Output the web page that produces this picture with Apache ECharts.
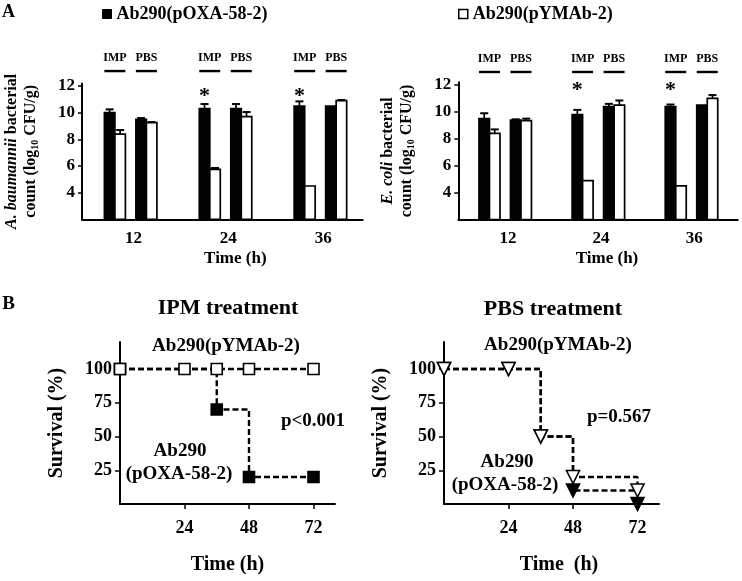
<!DOCTYPE html>
<html><head><meta charset="utf-8">
<script src="https://cdn.jsdelivr.net/npm/echarts@6/dist/echarts.min.js"></script>
<style>html,body{margin:0;padding:0;background:#fff}#c{width:742px;height:581px}</style>
</head><body><div id="c"></div>
<script>
const FONT = '"Liberation Serif","Times New Roman",serif';

// ---------- Panel A data (log10 CFU/g) ----------
const timePoints = [12, 24, 36];
const groupLabels = ['IMP', 'PBS'];
const yTicksA = [4, 6, 8, 10, 12];

// A. baumannii
const abImpOxa = [10.0, 10.3, 10.5];
const abImpOxaErr = [0.25, 0.35, 0.35];
const abImpYm = [8.4, 5.75, 4.5];
const abImpYmErr = [0.3, 0.1, 0.0];
const abPbsOxa = [9.5, 10.3, 10.5];
const abPbsOxaErr = [0.1, 0.35, 0.0];
const abPbsYm = [9.25, 9.7, 10.9];
const abPbsYmErr = [0.05, 0.35, 0.05];
const abStars = [[24, 11.25], [36, 11.25]];

// E. coli
const ecImpOxa = [9.5, 9.8, 10.4];
const ecImpOxaErr = [0.4, 0.35, 0.15];
const ecImpYm = [8.4, 4.9, 4.5];
const ecImpYmErr = [0.3, 0.0, 0.0];
const ecPbsOxa = [9.4, 10.4, 10.5];
const ecPbsOxaErr = [0.05, 0.2, 0.0];
const ecPbsYm = [9.35, 10.5, 11.0];
const ecPbsYmErr = [0.15, 0.35, 0.25];
const ecStars = [[24, 11.6], [36, 11.6]];

// ---------- Panel B data (survival %) ----------
const survTicksX = [24, 48, 72];
const survTicksY = [25, 50, 75, 100];
const ipmYmT = [0, 24, 36, 48, 72];
const ipmYm = [100, 100, 100, 100, 100];
const ipmOxaT = [0, 36, 48, 72];
const ipmOxa = [100, 70, 20, 20];
const pbsYmT = [0, 24, 36, 48, 72];
const pbsYm = [100, 100, 50, 20, 10];
const pbsOxaT = [0, 24, 36, 48, 72];
const pbsOxa = [100, 100, 50, 10, 0];

const OXA = 'Ab290(pOXA-58-2)';
const YM = 'Ab290(pYMAb-2)';
const BAR_W = 10.5;
const Y_MIN_A = 2;

function txt(size, extra) {
  return Object.assign({ fontFamily: FONT, fontWeight: 'bold', fontSize: size, color: '#000' }, extra || {});
}

function makeBars(gi, name, vals, errs, offset, fill) {
  return {
    type: 'custom', name: name, xAxisIndex: gi, yAxisIndex: gi, z: 3,
    data: timePoints.map((t, i) => [t, vals[i], errs[i]]),
    renderItem: function (params, api) {
      const t = api.value(0), v = api.value(1), e = api.value(2);
      const top = api.coord([t, v]);
      const base = api.coord([t, Y_MIN_A]);
      const et = api.coord([t, v + e]);
      const x = top[0] + offset, cx = x + BAR_W / 2;
      const children = [{
        type: 'rect', shape: { x: x, y: top[1], width: BAR_W, height: base[1] - top[1] },
        style: { fill: fill, stroke: '#000', lineWidth: 1.7 }
      }];
      if (e > 0) {
        children.push({ type: 'line', shape: { x1: cx, y1: top[1], x2: cx, y2: et[1] }, style: { stroke: '#000', lineWidth: 1.7 } });
        children.push({ type: 'line', shape: { x1: cx - 4, y1: et[1], x2: cx + 4, y2: et[1] }, style: { stroke: '#000', lineWidth: 2 } });
      }
      return { type: 'group', children: children };
    }
  };
}

function makeGroupLabels(gi, lineOff, textOff) {
  const pairs = [[-29, -8], [2.5, 23.5]];
  return {
    type: 'custom', xAxisIndex: gi, yAxisIndex: gi, silent: true, z: 3,
    data: timePoints.map(t => [t, 12]),
    renderItem: function (params, api) {
      const p = api.coord([api.value(0), api.value(1)]);
      const children = [];
      pairs.forEach((pr, k) => {
        children.push({ type: 'line', shape: { x1: p[0] + pr[0], y1: p[1] - lineOff, x2: p[0] + pr[1], y2: p[1] - lineOff }, style: { stroke: '#000', lineWidth: 2.4 } });
        children.push({ type: 'text', style: { text: groupLabels[k], x: p[0] + (pr[0] + pr[1]) / 2, y: p[1] - textOff, textAlign: 'center', textVerticalAlign: 'middle', font: 'bold 12px ' + FONT, fill: '#000' } });
      });
      return { type: 'group', children: children };
    }
  };
}

function makeStars(gi, data) {
  return {
    type: 'custom', xAxisIndex: gi, yAxisIndex: gi, silent: true, z: 3,
    data: data,
    renderItem: function (params, api) {
      const p = api.coord([api.value(0), api.value(1)]);
      return { type: 'text', style: { text: '*', x: p[0] - 29 + BAR_W / 2, y: p[1], textAlign: 'center', textVerticalAlign: 'middle', font: 'bold 22px ' + FONT, fill: '#000' } };
    }
  };
}

function xAxisA(gi, min, max, pad) {
  return {
    type: 'value', gridIndex: gi, min: min, max: max,
    axisLine: { show: true, lineStyle: { color: '#000', width: 2 } },
    axisTick: { show: false }, splitLine: { show: false },
    axisLabel: Object.assign(txt(17), { customValues: timePoints, margin: 11 }),
    name: 'Time (h)', nameLocation: 'middle', nameGap: 31,
    nameTextStyle: txt(17, { padding: [0, 0, 0, pad] })
  };
}
function yAxisA(gi, italicName) {
  const rich = {
    i: txt(16, { fontStyle: 'italic', lineHeight: 19 }),
    n: txt(16, { lineHeight: 19 }),
    s: txt(10, { lineHeight: 19, verticalAlign: 'bottom' })
  };
  return {
    type: 'value', gridIndex: gi, min: Y_MIN_A, max: 12.2,
    axisLine: { show: true, lineStyle: { color: '#000', width: 2 } },
    axisTick: { show: true, customValues: yTicksA, length: 4, lineStyle: { color: '#000', width: 1.5 } },
    axisLabel: Object.assign(txt(17), { customValues: yTicksA, margin: 7 }),
    splitLine: { show: false },
    name: '{i|' + italicName + '}{n| bacterial}\n{n|count (log}{s|10}{n| CFU/g)}',
    nameLocation: 'middle', nameGap: 42, nameRotate: 90,
    nameTextStyle: txt(16, { lineHeight: 19, rich: rich })
  };
}
function xAxisB(gi, pad, name) {
  return {
    type: 'value', gridIndex: gi, min: 0, max: 80,
    axisLine: { show: true, lineStyle: { color: '#000', width: 2 } },
    axisTick: { show: true, customValues: survTicksX, length: 5, lineStyle: { color: '#000', width: 1.5 } },
    axisLabel: Object.assign(txt(18), { customValues: survTicksX, margin: 15 }),
    splitLine: { show: false },
    name: name, nameLocation: 'middle', nameGap: 51,
    nameTextStyle: txt(20, { padding: [0, 0, 0, pad] })
  };
}
function yAxisB(gi) {
  return {
    type: 'value', gridIndex: gi, min: 0, max: 120,
    axisLine: { show: true, lineStyle: { color: '#000', width: 2 } },
    axisTick: { show: true, customValues: survTicksY, length: 5, lineStyle: { color: '#000', width: 1.5 } },
    axisLabel: Object.assign(txt(18), { customValues: survTicksY, margin: 8 }),
    splitLine: { show: false },
    name: 'Survival (%)', nameLocation: 'middle', nameGap: 53, nameRotate: 90,
    nameTextStyle: txt(20)
  };
}

function survLine(gi, name, ts, vals, symbol, rotate, size, fill, z) {
  return {
    type: 'line', name: name, xAxisIndex: gi, yAxisIndex: gi, z: z, clip: false,
    step: 'end', data: ts.map((t, i) => [t, vals[i]]),
    symbol: symbol, symbolRotate: rotate, symbolSize: size, showAllSymbol: true,
    lineStyle: { color: '#000', width: 2.4, type: [6, 3] },
    itemStyle: { color: fill, borderColor: '#000', borderWidth: 1.6 },
    emphasis: { disabled: true }
  };
}

const gridBase = { containLabel: false, outerBoundsMode: 'none' };
const option = {
  animation: false,
  backgroundColor: '#fff',
  grid: [
    Object.assign({ left: 82, top: 83.4, width: 280.7, height: 135.9 }, gridBase),
    Object.assign({ left: 458.3, top: 82.3, width: 279.4, height: 137.3 }, gridBase),
    Object.assign({ left: 120, top: 342, width: 215, height: 162 }, gridBase),
    Object.assign({ left: 444, top: 342, width: 215, height: 162 }, gridBase)
  ],
  xAxis: [
    xAxisA(0, 5.5, 41, 26),
    xAxisA(1, 5.6, 41.6, 18),
    xAxisB(2, 0, 'Time (h)'),
    xAxisB(3, 15, 'Time  (h)')
  ],
  yAxis: [
    yAxisA(0, 'A. baumannii'),
    yAxisA(1, 'E. coli'),
    yAxisB(2),
    yAxisB(3)
  ],
  legend: [
    { left: 102, top: 5, padding: 0, itemWidth: 9, itemHeight: 9,
      textStyle: txt(18), data: [{ name: OXA, icon: 'rect', itemStyle: { color: '#000', borderColor: '#000', borderWidth: 1 } }] },
    { left: 458, top: 5, padding: 0, itemWidth: 9, itemHeight: 9,
      textStyle: txt(18), data: [{ name: YM, icon: 'rect', itemStyle: { color: '#fff', borderColor: '#000', borderWidth: 1.5 } }] }
  ],
  graphic: [
    { type: 'text', x: 8.5, y: 12, style: { text: 'A', font: 'bold 18px ' + FONT, fill: '#000', textAlign: 'center', textVerticalAlign: 'middle' } },
    { type: 'text', x: 8.5, y: 304, style: { text: 'B', font: 'bold 19px ' + FONT, fill: '#000', textAlign: 'center', textVerticalAlign: 'middle' } },
    { type: 'text', x: 228, y: 308, style: { text: 'IPM treatment', font: 'bold 22px ' + FONT, fill: '#000', textAlign: 'center', textVerticalAlign: 'middle' } },
    { type: 'text', x: 553, y: 309, style: { text: 'PBS treatment', font: 'bold 22px ' + FONT, fill: '#000', textAlign: 'center', textVerticalAlign: 'middle' } },
    { type: 'text', x: 226, y: 346, style: { text: YM, font: 'bold 19px ' + FONT, fill: '#000', textAlign: 'center', textVerticalAlign: 'middle' } },
    { type: 'text', x: 313, y: 421, style: { text: 'p<0.001', font: 'bold 19px ' + FONT, fill: '#000', textAlign: 'center', textVerticalAlign: 'middle' } },
    { type: 'text', x: 180, y: 451, style: { text: 'Ab290', font: 'bold 19px ' + FONT, fill: '#000', textAlign: 'center', textVerticalAlign: 'middle' } },
    { type: 'text', x: 179, y: 474, style: { text: '(pOXA-58-2)', font: 'bold 19px ' + FONT, fill: '#000', textAlign: 'center', textVerticalAlign: 'middle' } },
    { type: 'text', x: 558, y: 345, style: { text: YM, font: 'bold 19px ' + FONT, fill: '#000', textAlign: 'center', textVerticalAlign: 'middle' } },
    { type: 'text', x: 619, y: 417, style: { text: 'p=0.567', font: 'bold 19px ' + FONT, fill: '#000', textAlign: 'center', textVerticalAlign: 'middle' } },
    { type: 'text', x: 507, y: 462, style: { text: 'Ab290', font: 'bold 19px ' + FONT, fill: '#000', textAlign: 'center', textVerticalAlign: 'middle' } },
    { type: 'text', x: 505, y: 485, style: { text: '(pOXA-58-2)', font: 'bold 19px ' + FONT, fill: '#000', textAlign: 'center', textVerticalAlign: 'middle' } }
  ],
  series: [
    makeBars(0, OXA, abImpOxa, abImpOxaErr, -29, '#000'),
    makeBars(0, YM, abImpYm, abImpYmErr, -18.5, '#fff'),
    makeBars(0, OXA, abPbsOxa, abPbsOxaErr, 2.5, '#000'),
    makeBars(0, YM, abPbsYm, abPbsYmErr, 13, '#fff'),
    makeGroupLabels(0, 15, 28),
    makeStars(0, abStars),
    makeBars(1, OXA, ecImpOxa, ecImpOxaErr, -29, '#000'),
    makeBars(1, YM, ecImpYm, ecImpYmErr, -18.5, '#fff'),
    makeBars(1, OXA, ecPbsOxa, ecPbsOxaErr, 2.5, '#000'),
    makeBars(1, YM, ecPbsYm, ecPbsYmErr, 13, '#fff'),
    makeGroupLabels(1, 13, 26),
    makeStars(1, ecStars),
    survLine(2, OXA, ipmOxaT, ipmOxa, 'rect', 0, 11, '#000', 2),
    survLine(2, YM, ipmYmT, ipmYm, 'rect', 0, 11, '#fff', 3),
    survLine(3, OXA, pbsOxaT, pbsOxa, 'triangle', 180, 13, '#000', 2),
    survLine(3, YM, pbsYmT, pbsYm, 'triangle', 180, 13, '#fff', 3)
  ]
};
const chart = echarts.init(document.getElementById('c'), null, { renderer: 'canvas' });
chart.setOption(option);
</script>
</body></html>
